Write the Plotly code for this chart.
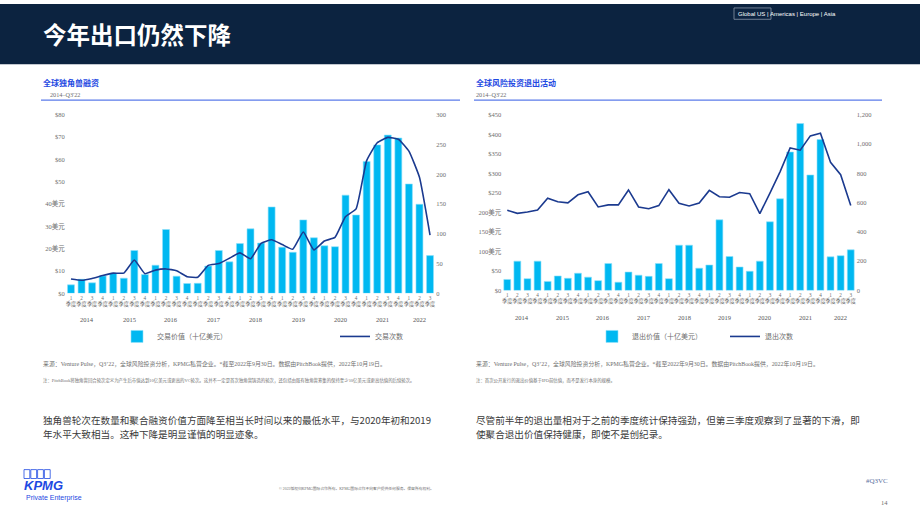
import plotly.graph_objects as go

W, H = 920, 518
def X(px): return px / W
def Y(py): return 1 - py / H

# ---------------- data ----------------
quarters = ["2014Q1","2014Q2","2014Q3","2014Q4","2015Q1","2015Q2","2015Q3","2015Q4",
            "2016Q1","2016Q2","2016Q3","2016Q4","2017Q1","2017Q2","2017Q3","2017Q4",
            "2018Q1","2018Q2","2018Q3","2018Q4","2019Q1","2019Q2","2019Q3","2019Q4",
            "2020Q1","2020Q2","2020Q3","2020Q4","2021Q1","2021Q2","2021Q3","2021Q4",
            "2022Q1","2022Q2","2022Q3"]
quarter_nums = ["1","2","3","4"] * 8 + ["1","2","3"]
years = ["2014","2015","2016","2017","2018","2019","2020","2021","2022"]
year_centers = [1.5, 5.5, 9.5, 13.5, 17.5, 21.5, 25.5, 29.5, 33.0]

unicorn_value = [3.8, 6.3, 4.7, 7.8, 8.9, 6.8, 19.2, 8.4, 12.6, 28.6, 7.7, 4.4,
                 4.5, 12.2, 19.2, 14.1, 22.3, 28.9, 22.5, 38.7, 20.7, 18.4, 32.9, 24.9,
                 21.3, 20.9, 44.0, 35.1, 59.1, 66.5, 70.9, 69.6, 49.0, 39.9, 16.9]
unicorn_count = [24, 22, 25, 30, 34, 34, 56, 33, 39, 41, 38, 28,
                 27, 47, 50, 59, 68, 58, 84, 90, 82, 74, 103, 73,
                 88, 94, 129, 142, 223, 253, 262, 259, 239, 195, 98]

exit_value = [28, 75, 30, 75, 23, 37, 31, 44, 34, 25, 69, 21,
              47, 39, 36, 69, 30, 116, 116, 57, 65, 181, 87, 60,
              49, 75, 176, 235, 355, 428, 296, 387, 86, 89, 104]
exit_count = [548, 527, 536, 550, 631, 606, 599, 654, 675, 571, 585, 585,
              687, 571, 559, 580, 689, 596, 577, 597, 684, 641, 637, 670,
              661, 525, 666, 811, 974, 959, 1057, 1075, 876, 791, 581]

left_y_vals = [0, 10, 20, 30, 40, 50, 60, 70, 80]
left_y_text = ["$0", "$10", "20美元", "30美元", "40美元", "$50", "$60", "$70", "$80"]
left_y2_vals = [0, 50, 100, 150, 200, 250, 300]
right_y_vals = [0, 50, 100, 150, 200, 250, 300, 350, 400, 450]
right_y_text = ["$0", "$50", "100美元", "150美元", "200美元", "$250", "$300", "$350", "$400", "$450"]
right_y2_vals = [0, 200, 400, 600, 800, 1000, 1200]
right_y2_text = ["0", "200", "400", "600", "800", "1,000", "1,200"]

BAR = "#00B8F1"
LINE = "#1B3A8F"
GREY = "#6E6E6E"
SERIF = "Liberation Serif, Noto Sans CJK SC, serif"
SANS = "Noto Sans CJK SC, Noto Sans, sans-serif"
tick_text = [q + "<br>季度" for q in quarter_nums]

fig = go.Figure()
fig.add_trace(go.Bar(x=quarters, y=unicorn_value, xaxis="x", yaxis="y", name="交易价值（十亿美元）",
                     marker=dict(color=BAR, line=dict(color="#8FE0FA", width=0.6)), width=0.66,
                     legend="legend"))
fig.add_trace(go.Scatter(x=quarters, y=unicorn_count, xaxis="x", yaxis="y2", name="交易次数", mode="lines",
                         line=dict(color=LINE, width=1.6, shape="spline", smoothing=0.4), legend="legend"))
fig.add_trace(go.Bar(x=quarters, y=exit_value, xaxis="x2", yaxis="y3", name="退出价值（十亿美元）",
                     marker=dict(color=BAR, line=dict(color="#8FE0FA", width=0.6)), width=0.68,
                     legend="legend2"))
fig.add_trace(go.Scatter(x=quarters, y=exit_count, xaxis="x2", yaxis="y4", name="退出次数", mode="lines",
                         line=dict(color=LINE, width=1.6), legend="legend2"))

axis_common = dict(showgrid=False, zeroline=False, showline=False, ticks="")
tickf = dict(family=SERIF, size=6.5, color=GREY)
xtickf = dict(family=SERIF, size=5.2, color=GREY)

fig.update_layout(
    width=W, height=H, margin=dict(l=0, r=0, t=0, b=0),
    paper_bgcolor="white", plot_bgcolor="white", bargap=0.3,
    xaxis=dict(domain=[X(65.7), X(435.3)], anchor="y", type="category", tickvals=quarters,
               ticktext=tick_text, tickangle=0, tickfont=xtickf, **axis_common),
    yaxis=dict(domain=[Y(293.3), Y(112.3)], anchor="x", range=[0, 80], tickvals=left_y_vals,
               ticktext=left_y_text, tickfont=tickf, **axis_common),
    yaxis2=dict(overlaying="y", side="right", anchor="x", range=[0, 300], tickvals=left_y2_vals,
                tickfont=tickf, **axis_common),
    xaxis2=dict(domain=[X(502.2), X(855.8)], anchor="y3", type="category", tickvals=quarters,
                ticktext=tick_text, tickangle=0, tickfont=xtickf, **axis_common),
    yaxis3=dict(domain=[Y(290.3), Y(112.5)], anchor="x2", range=[0, 450], tickvals=right_y_vals,
                ticktext=right_y_text, tickfont=tickf, **axis_common),
    yaxis4=dict(overlaying="y3", side="right", anchor="x2", range=[0, 1200], tickvals=right_y2_vals,
                ticktext=right_y2_text, tickfont=tickf, **axis_common),
    legend=dict(orientation="h", x=X(117), y=Y(337), xanchor="left", yanchor="middle",
                entrywidth=173, entrywidthmode="pixels", font=dict(family=SANS, size=7, color=GREY),
                bgcolor="rgba(0,0,0,0)", itemwidth=30),
    legend2=dict(orientation="h", x=X(592), y=Y(337), xanchor="left", yanchor="middle",
                 entrywidth=88, entrywidthmode="pixels", font=dict(family=SANS, size=7, color=GREY),
                 bgcolor="rgba(0,0,0,0)", itemwidth=30),
    showlegend=True,
)

shapes = [
    dict(type="rect", xref="paper", yref="paper", x0=0, x1=1, y0=Y(61), y1=1,
         fillcolor="#0C2340", line=dict(width=0), layer="below"),
    dict(type="line", xref="paper", yref="paper", x0=X(41), x1=X(460), y0=Y(97.5), y1=Y(97.5),
         line=dict(color="#5B7BEA", width=1.3)),
    dict(type="line", xref="paper", yref="paper", x0=X(474), x1=X(882), y0=Y(97.5), y1=Y(97.5),
         line=dict(color="#5B7BEA", width=1.3)),
    dict(type="rect", xref="paper", yref="paper", x0=X(734), x1=X(771), y0=Y(15.5), y1=Y(4),
         line=dict(color="#8A97A8", width=0.8)),
]
for i in range(4):
    shapes.append(dict(type="rect", xref="paper", yref="paper", x0=X(24 + i * 6.8), x1=X(29.8 + i * 6.8),
                       y0=Y(481), y1=Y(472), line=dict(color="#1E49E2", width=0.8)))
fig.update_layout(shapes=shapes)

ann = []
def txt(x, y, text, size, color, family=SANS, bold=False, xanchor="left", yanchor="middle", italic=False):
    t = f"<b>{text}</b>" if bold else text
    if italic:
        t = f"<i>{t}</i>"
    ann.append(dict(xref="paper", yref="paper", x=X(x), y=Y(y), text=t, showarrow=False,
                    xanchor=xanchor, yanchor=yanchor, font=dict(family=family, size=size, color=color)))

txt(41, 30, "今年出口仍然下降", 23.5, "white", bold=True)
txt(736, 10, "Global US | Americas | Europe | Asia", 6, "white", family="Liberation Sans Narrow, Liberation Sans, sans-serif")
txt(41, 80, "全球独角兽融资", 8, "#1E49E2", bold=True)
txt(48, 92, "2014–Q3'22", 6.2, GREY, family=SERIF)
txt(474, 80, "全球风险投资退出活动", 8, "#1E49E2", bold=True)
txt(474, 92, "2014–Q3'22", 6.2, GREY, family=SERIF)

src = "来源：Venture Pulse，Q3’22，全球风险投资分析，KPMG私营企业。*截至2022年9月30日。数据由PitchBook提供，2022年10月19日。"
txt(41, 365, src, 5.9, GREY, family=SERIF)
txt(474, 365, src, 5.9, GREY, family=SERIF)
txt(41, 382, "注：PitchBook将独角兽回合轮次定义为产生后市值达到10亿美元或更高的VC轮次。这并不一定是首次独角兽铸造的轮次，还包括由既有独角兽筹集的保持至少10亿美元或更高估值的后续轮次。",
    4.4, GREY, family=SERIF)
txt(474, 382, "注：首次公开发行的退出价值基于IPO前估值，而不是发行本身的规模。", 4.4, GREY, family=SERIF)

txt(41, 422, "独角兽轮次在数量和聚合融资价值方面降至相当长时间以来的最低水平，与2020年初和2019", 9.6, "#3A3A3A")
txt(41, 436, "年水平大致相当。这种下降是明显谨慎的明显迹象。", 9.6, "#3A3A3A")
txt(474, 422, "尽管前半年的退出量相对于之前的季度统计保持强劲，但第三季度观察到了显著的下滑，即", 9.6, "#3A3A3A")
txt(474, 436, "使聚合退出价值保持健康，即使不是创纪录。", 9.6, "#3A3A3A")

txt(22, 488, "KPMG", 13, "#1E49E2", family="Liberation Sans, sans-serif", bold=True, italic=True)
txt(24, 501, "Private Enterprise", 7, "#1E49E2", family="Liberation Sans Narrow, Liberation Sans, sans-serif")
txt(356, 491, "© 2022版权归KPMG国际合作所有。KPMG国际合作不向客户提供任何服务。保留所有权利。", 3.8, GREY,
    family=SERIF, xanchor="center")
txt(890, 484, "#Q3VC", 7, "#5A6FA0", family=SERIF, xanchor="right")
txt(890, 505, "14", 6.5, GREY, family=SERIF, xanchor="right")

for yr, c in zip(years, year_centers):
    ann.append(dict(xref="x", yref="paper", x=c, y=Y(320), text=yr, showarrow=False,
                    font=dict(family=SERIF, size=6.5, color="#555555")))
    ann.append(dict(xref="x2", yref="paper", x=c, y=Y(318), text=yr, showarrow=False,
                    font=dict(family=SERIF, size=6.5, color="#555555")))

fig.update_layout(annotations=ann)
fig.write_html("out.html")
